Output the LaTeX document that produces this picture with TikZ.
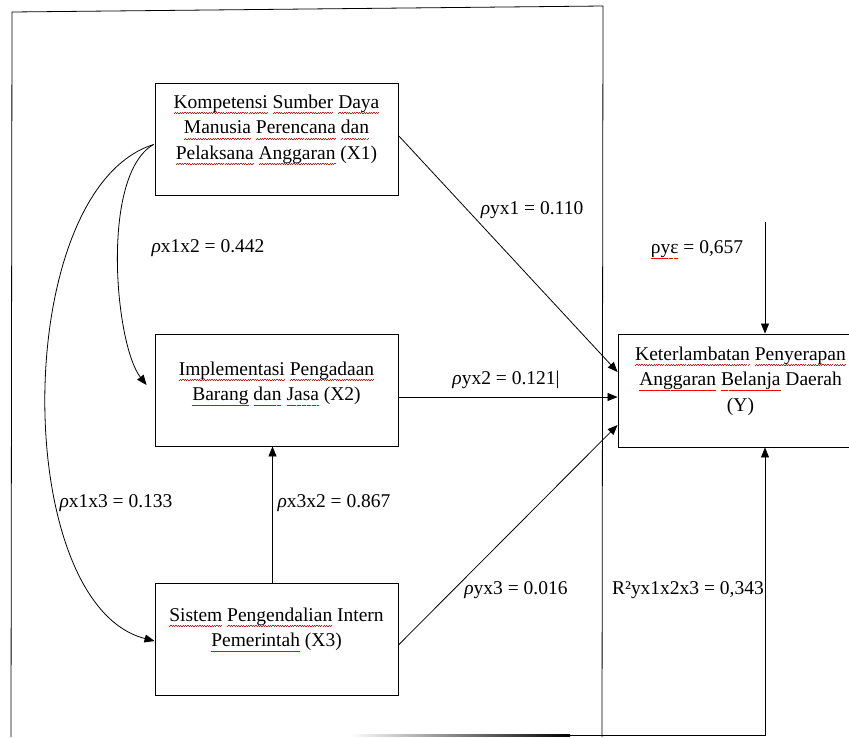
\documentclass[tikz,border=0pt]{standalone}
\usepackage{fontspec}
\setmainfont{Liberation Serif}
\usetikzlibrary{arrows.meta,calc}
\newsavebox\sqbox
\newcommand\sqpat{\hbox{\rule[-5.6pt]{1.2pt}{0.9pt}\rule[-4.8pt]{1.2pt}{0.9pt}}}
\newcommand\sq[1]{\sbox\sqbox{#1}\rlap{\textcolor{red}{\hbox to\wd\sqbox{\xleaders\sqpat\hfil}}}\usebox\sqbox}
\begin{document}
\begin{tikzpicture}[x=1pt,y=-1pt,
  box/.style={draw,line width=0.9pt,minimum width=243pt,minimum height=112pt,inner sep=0pt},
  txt/.style={align=center,font=\fontsize{19.5}{25.5}\selectfont,inner sep=0pt},
  lbl/.style={font=\fontsize{19.5}{23}\selectfont,inner sep=0pt},
  arr/.style={line width=0.8pt,-{Triangle[length=10pt,width=8pt]}},
  ln/.style={line width=0.8pt}]
\useasboundingbox (0,0) rectangle (849,737);
% frame
\coordinate (f1) at (11,737);
\coordinate (f2) at (12,12);
\coordinate (f3) at (603,6);
\coordinate (f4) at (602,737);
\draw[ln] (f1) -- (f2) -- (f3) -- (f4);
% boxes
\node[box] (x1) at (276.5,139.5) {};
\node[txt] (x1t) at (276.5,130) {\sq{Kompetensi} \sq{Sumber} \sq{Daya}\\ \sq{Manusia} \sq{Perencana} \sq{dan}\\ \sq{Pelaksana} \sq{Anggaran} (X1)};
\node[box] (x2) at (276.5,390) {};
\node[txt] (x2t) at (276.5,384) {\sq{Implementasi} \sq{Pengadaan}\\ \sq{Barang} \sq{dan} \sq{Jasa} (X2)};
\node[box] (x3) at (276.5,639) {};
\node[txt] (x3t) at (276.5,630) {\sq{Sistem} \sq{Pengendalian} Intern\\ \sq{Pemerintah} (X3)};
\node[box,minimum width=245pt,minimum height=113pt] (y) at (740.5,390.5) {};
\node[txt] (yt) at (740.5,381) {\sq{Keterlambatan} \sq{Penyerapan}\\ \sq{Anggaran} \sq{Belanja} Daerah\\ (Y)};
% paths to Y
\draw[arr] ([yshift=4pt]x1.east) -- ([yshift=18.5pt]y.west);
\draw[arr] ([yshift=-7pt]x2.east) -- ([yshift=-6.5pt]y.west);
\draw[arr] ([yshift=-6pt]x3.east) -- ([yshift=-34.5pt]y.west);
\draw[arr] ([xshift=-4pt]x3.north) -- ([xshift=-4pt]x2.south);
% correlations
\draw[arr] ([yshift=-5pt,xshift=-1pt]x1.west) .. controls (100,175) and (115,345) .. ([xshift=-8pt,yshift=5pt]x2.west);
\draw[arr] ([yshift=-5pt,xshift=-1pt]x1.west) .. controls (10,190) and (10,604) .. ([yshift=-2pt]x3.west);
% error and R2
\coordinate (e0) at (765,222);
\draw[arr] (e0) -- (e0 |- y.north);
\coordinate (b0) at (350,735);
\coordinate (b1) at (765,735);
\draw[arr] (b0) -- (b1) -- (b1 |- y.south);
\shade[left color=white,right color=black] (350,734) rectangle (570,736.5);
% labels
\node[lbl] (l1) at (532,210) {\textit{ρ}yx1 = 0.110};
\node[lbl] (l2) at (208,248) {\textit{ρ}x1x2 = 0.442};
\node[lbl] (l3) at (697,250) {\sq{ρyε} = 0,657};
\node[lbl] (l4) at (506,380) {\textit{ρ}yx2 = 0.121|};
\node[lbl] (l5) at (116,503) {\textit{ρ}x1x3 = 0.133};
\node[lbl] (l6) at (334,503) {\textit{ρ}x3x2 = 0.867};
\node[lbl] (l7) at (516,590) {\textit{ρ}yx3 = 0.016};
\node[lbl] (l8) at (688,590) {R²yx1x2x3 = 0,343};
\end{tikzpicture}
\end{document}
